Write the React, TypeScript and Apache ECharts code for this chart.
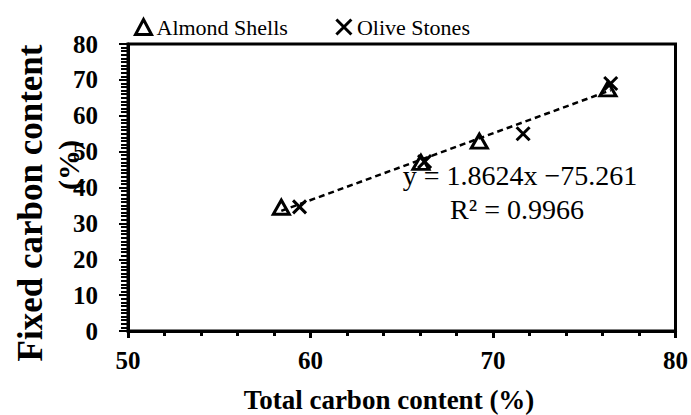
import React, { useEffect, useRef } from "react";
import * as echarts from "echarts";

// Total carbon content (%) vs fixed carbon content (%)
const almondTotalC = [58.4, 66.05, 69.25, 76.3];
const almondFixedC = [34.5, 47.0, 52.9, 67.5];
const oliveTotalC = [59.4, 66.25, 71.65, 76.45];
const oliveFixedC = [34.6, 47.2, 55.0, 69.0];

// Linear fit over both residues
const fitSlope = 1.8624;
const fitIntercept = -75.261;
const fitR2 = 0.9966;

const xTicks = [50, 60, 70, 80];
const yTicks = [0, 10, 20, 30, 40, 50, 60, 70, 80];

const SERIF = "Liberation Serif, serif";
const CROSS = "path://M0,0L10,10M10,0L0,10";

export default function App() {
  const ref = useRef<HTMLDivElement>(null);

  useEffect(() => {
    if (!ref.current) return;
    const chart = echarts.init(ref.current, undefined, { renderer: "svg" });

    const allX = almondTotalC.concat(oliveTotalC);
    const xMin = Math.min(...allX);
    const xMax = Math.max(...allX);
    const fitLine = [xMin, xMax].map((x) => [x, fitSlope * x + fitIntercept]);

    const sign = fitIntercept < 0 ? "\u2212" : "+";

    const titleStyle = {
      fontFamily: SERIF,
      fontWeight: "bold",
      fill: "#000",
      align: "center",
      verticalAlign: "middle",
    };
    const noteStyle = {
      fontFamily: SERIF,
      fontSize: 28,
      fill: "#000",
      align: "center",
      verticalAlign: "middle",
    };

    chart.setOption({
      animation: false,
      backgroundColor: "#fff",
      textStyle: { fontFamily: SERIF, color: "#000" },
      grid: {
        left: 128,
        right: 14,
        top: 44,
        bottom: 84,
        show: true,
        borderColor: "#000",
        borderWidth: 3,
        backgroundColor: "transparent",
      },
      legend: {
        left: 128,
        top: 11,
        itemGap: 46,
        itemWidth: 16,
        itemHeight: 15,
        itemStyle: { borderColor: "#000", borderWidth: 3, color: "none" },
        textStyle: { fontFamily: SERIF, fontSize: 22, color: "#000" },
        data: ["Almond Shells", "Olive Stones"],
      },
      xAxis: {
        type: "value",
        min: xTicks[0],
        max: xTicks[xTicks.length - 1],
        interval: 10,
        splitLine: { show: false },
        axisLine: { lineStyle: { color: "#000", width: 3 } },
        axisTick: { show: true, length: 7, lineStyle: { color: "#000", width: 3 } },
        minorTick: { show: true, splitNumber: 5, length: 5, lineStyle: { color: "#000", width: 3 } },
        axisLabel: {
          margin: 17,
          fontFamily: SERIF,
          fontSize: 25,
          fontWeight: "bold",
          color: "#000",
        },
      },
      yAxis: {
        type: "value",
        min: yTicks[0],
        max: yTicks[yTicks.length - 1],
        interval: 10,
        splitLine: { show: false },
        axisLine: { lineStyle: { color: "#000", width: 3 } },
        axisTick: { show: true, length: 9, lineStyle: { color: "#000", width: 2 } },
        minorTick: { show: true, splitNumber: 10, length: 7, lineStyle: { color: "#000", width: 2 } },
        axisLabel: {
          margin: 30,
          fontFamily: SERIF,
          fontSize: 25,
          fontWeight: "bold",
          color: "#000",
        },
      },
      graphic: [
        {
          type: "text",
          x: 389,
          y: 400,
          style: { ...titleStyle, fontSize: 27, text: "Total carbon content (%)" },
        },
        {
          type: "text",
          x: 30,
          y: 203,
          rotation: Math.PI / 2,
          style: { ...titleStyle, fontSize: 35, text: "Fixed carbon content" },
        },
        {
          type: "text",
          x: 68,
          y: 165,
          rotation: Math.PI / 2,
          style: { ...titleStyle, fontSize: 30, text: "(%)" },
        },
        {
          type: "text",
          x: 520,
          y: 175,
          style: { ...noteStyle, text: `y = ${fitSlope}x ${sign}${Math.abs(fitIntercept)}` },
          z: 10,
        },
        {
          type: "text",
          x: 517,
          y: 209,
          style: { ...noteStyle, text: `R\u00b2 = ${fitR2}` },
          z: 10,
        },
      ],
      series: [
        {
          name: "Linear fit",
          type: "line",
          data: fitLine,
          symbol: "none",
          silent: true,
          lineStyle: { color: "#000", width: 2.5, type: [6, 4] },
          z: 1,
        },
        {
          name: "Almond Shells",
          type: "scatter",
          data: almondTotalC.map((x, i) => [x, almondFixedC[i]]),
          symbol: "triangle",
          symbolSize: [16, 14],
          itemStyle: { color: "none", borderColor: "#000", borderWidth: 3, opacity: 1 },
          z: 3,
        },
        {
          name: "Olive Stones",
          type: "scatter",
          data: oliveTotalC.map((x, i) => [x, oliveFixedC[i]]),
          symbol: CROSS,
          symbolSize: 13,
          itemStyle: { color: "none", borderColor: "#000", borderWidth: 3, opacity: 1 },
          z: 4,
        },
      ],
    });

    return () => chart.dispose();
  }, []);

  return (
    <div
      ref={ref}
      style={{ position: "fixed", left: 0, top: 0, width: 691, height: 415, background: "#fff" }}
    />
  );
}
